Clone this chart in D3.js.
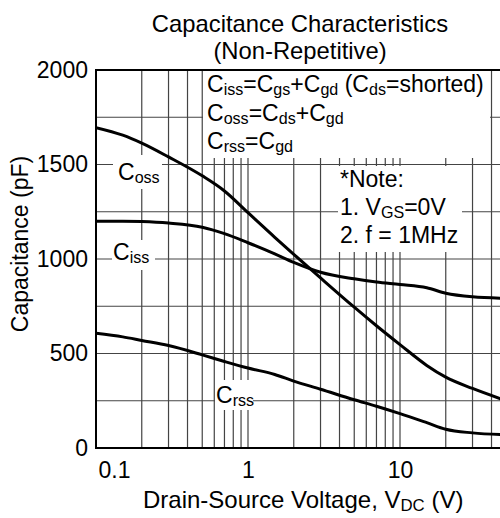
<!DOCTYPE html>
<html>
<head>
<meta charset="utf-8">
<script src="https://cdn.jsdelivr.net/npm/d3@7"></script>
<style>
  body { margin: 0; background: #fff; }
  svg { font-family: "Liberation Sans", Arial, sans-serif; }
</style>
</head>
<body>
<div id="chart"></div>
<script>
// values
const voltage = [0.1, 0.15, 0.2, 0.3, 0.5, 0.7, 1, 1.5, 2, 3, 5, 7, 10, 15, 20, 30, 50];
const coss = [1695, 1655, 1613, 1540, 1440, 1360, 1245, 1115, 1025, 900, 745, 647, 547, 437, 375, 315, 250];
const ciss = [1200, 1200, 1198, 1190, 1168, 1134, 1086, 1027, 982, 930, 895, 878, 865, 848, 819, 800, 792];
const crss = [607, 588, 569, 542, 493, 458, 423, 389, 354, 311, 255, 221, 182, 134, 99, 80, 70];
const yTicks = [0, 500, 1000, 1500, 2000];
const xTicks = [0.1, 1, 10];
const yGrid = [250, 500, 750, 1000, 1250, 1500, 1750];

const width = 500, height = 518;
const pLeft = 96, pTop = 70, pBottom = 448;

const svg = d3.select('#chart').append('svg')
  .attr('width', width)
  .attr('height', height);

const x = d3.scaleLog().domain([0.1, 50]).range([pLeft, pLeft + 152 * Math.log10(500)]);
const y = d3.scaleLinear().domain([0, 2000]).range([pBottom, pTop]);

svg.append('clipPath').attr('id', 'plot')
  .append('rect')
  .attr('x', pLeft).attr('y', pTop)
  .attr('width', width - pLeft).attr('height', pBottom - pTop);

// grid
const grid = svg.append('g').attr('stroke', '#444').attr('stroke-width', 1.2);
grid.selectAll('.v')
  .data(x.ticks().filter(d => d > 0.1))
  .enter().append('line')
  .attr('x1', d => x(d)).attr('x2', d => x(d))
  .attr('y1', pTop).attr('y2', pBottom);
grid.selectAll('.h')
  .data(yGrid)
  .enter().append('line')
  .attr('x1', pLeft).attr('x2', width)
  .attr('y1', d => y(d)).attr('y2', d => y(d));

// white boxes behind the texts
const boxes = [
  [203, 71, 287, 87],   // legend
  [338, 166, 124, 86],  // note
  [113, 155, 49, 34],   // Coss label
  [112, 240, 43, 30],   // Ciss label
  [215, 380, 38, 30]    // Crss label
];
svg.selectAll('.box')
  .data(boxes)
  .enter().append('rect')
  .attr('x', d => d[0]).attr('y', d => d[1])
  .attr('width', d => d[2]).attr('height', d => d[3])
  .attr('fill', '#fff');

// curves
const line = d3.line()
  .x((d, i) => x(voltage[i]))
  .y(d => y(d))
  .curve(d3.curveMonotoneX);

svg.append('g').attr('clip-path', 'url(#plot)')
  .selectAll('path')
  .data([coss, ciss, crss])
  .enter().append('path')
  .attr('d', line)
  .attr('fill', 'none')
  .attr('stroke', '#000')
  .attr('stroke-width', 3);

// frame
svg.append('path')
  .attr('d', `M${width},${pTop}H${pLeft}V${pBottom}H${width}`)
  .attr('fill', 'none')
  .attr('stroke', '#000')
  .attr('stroke-width', 2);

// axes
const yAxis = svg.append('g')
  .attr('transform', `translate(${pLeft},0)`)
  .call(d3.axisLeft(y).tickValues(yTicks).tickFormat(d3.format('d')).tickSize(0).tickPadding(8));
yAxis.select('.domain').remove();
yAxis.selectAll('text').attr('font-size', 23).attr('fill', '#000')
  .attr('font-family', '"Liberation Sans", Arial, sans-serif');

const xAxis = svg.append('g')
  .attr('transform', `translate(0,${pBottom})`)
  .call(d3.axisBottom(x).tickValues(xTicks).tickFormat(d3.format('')).tickSize(0).tickPadding(14));
xAxis.select('.domain').remove();
xAxis.selectAll('text').attr('font-size', 23).attr('fill', '#000')
  .attr('font-family', '"Liberation Sans", Arial, sans-serif');
xAxis.selectAll('text').filter(d => d === 0.1).attr('text-anchor', 'start').attr('dx', 2);

// rich text helper: parts = [[text, isSub], ...]
function rich(sel, px, py, parts, size) {
  const t = sel.append('text').attr('x', px).attr('y', py).attr('font-size', size);
  let low = false;
  parts.forEach(p => {
    const dy = p[1] && !low ? 3 : (!p[1] && low ? -3 : 0);
    low = p[1];
    t.append('tspan')
      .attr('font-size', p[1] ? size * 0.7 : size)
      .attr('dy', dy)
      .text(p[0]);
  });
  return t;
}

// titles
svg.append('text').attr('x', 300).attr('y', 32).attr('text-anchor', 'middle')
  .attr('font-size', 23.8).text('Capacitance Characteristics');
svg.append('text').attr('x', 300).attr('y', 59).attr('text-anchor', 'middle')
  .attr('font-size', 23.8).text('(Non-Repetitive)');

rich(svg, 143, 508, [['Drain-Source Voltage, V', false], ['DC', true], [' (V)', false]], 24);

svg.append('text')
  .attr('transform', `translate(28,${(pTop + pBottom) / 2 - 15}) rotate(-90)`)
  .attr('text-anchor', 'middle')
  .attr('font-size', 23)
  .text('Capacitance (pF)');

// legend
rich(svg, 207, 92, [['C', false], ['iss', true], ['=C', false], ['gs', true], ['+C', false], ['gd', true],
  [' (C', false], ['ds', true], ['=shorted)', false]], 23);
rich(svg, 207, 121, [['C', false], ['oss', true], ['=C', false], ['ds', true], ['+C', false], ['gd', true]], 23);
rich(svg, 207, 149, [['C', false], ['rss', true], ['=C', false], ['gd', true]], 23);

// note
svg.append('text').attr('x', 340).attr('y', 187).attr('font-size', 23).text('*Note:');
rich(svg, 340, 215, [['1. V', false], ['GS', true], ['=0V', false]], 23);
svg.append('text').attr('x', 340).attr('y', 243).attr('font-size', 23).text('2. f = 1MHz');

// curve labels
rich(svg, 118, 180, [['C', false], ['oss', true]], 23);
rich(svg, 113, 260, [['C', false], ['iss', true]], 23);
rich(svg, 216, 403, [['C', false], ['rss', true]], 23);
</script>
</body>
</html>
